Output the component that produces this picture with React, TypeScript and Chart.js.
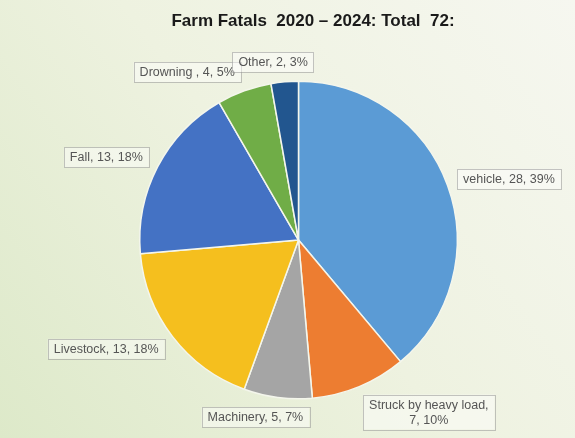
import React, { useEffect, useRef } from "react";
import { Chart, registerables } from "chart.js";

Chart.register(...registerables);

const TITLE = "Farm Fatals  2020 – 2024: Total  72:";
const CATEGORIES = ["vehicle", "Struck by heavy load", "Machinery", "Livestock", "Fall", "Drowning ", "Other"];
const VALUES = [28, 7, 5, 13, 13, 4, 2];
const PERCENTS = ["39%", "10%", "7%", "18%", "18%", "5%", "3%"];
const COLORS = ["#5b9bd5", "#ed7d31", "#a5a5a5", "#f5bf1e", "#4472c4", "#70ad47", "#22568f"];

const LABEL_FONT = "12.5px 'Liberation Sans', Arial, sans-serif";
const TITLE_FONT = "bold 17px 'Liberation Sans', Arial, sans-serif";

const bgPlugin = {
  id: "bg",
  beforeDraw(chart: any) {
    const { ctx, width, height } = chart;
    ctx.save();
    const g = ctx.createLinearGradient(0, height, width, 0);
    g.addColorStop(0, "#dde9c9");
    g.addColorStop(0.5, "#eef2e0");
    g.addColorStop(1, "#f6f7f0");
    ctx.fillStyle = g;
    ctx.fillRect(0, 0, width, height);
    ctx.restore();
  },
};

const labelPlugin = {
  id: "boxLabels",
  afterDatasetsDraw(chart: any) {
    const { ctx } = chart;
    const meta = chart.getDatasetMeta(0);
    ctx.save();
    // title
    ctx.font = TITLE_FONT;
    ctx.fillStyle = "#1a1a1a";
    ctx.textAlign = "center";
    ctx.textBaseline = "middle";
    ctx.fillText(TITLE, 313, 21);

    ctx.font = LABEL_FONT;
    meta.data.forEach((arc: any, i: number) => {
      const p = arc.getProps(["x", "y", "startAngle", "endAngle", "outerRadius"], true);
      const mid = (p.startAngle + p.endAngle) / 2;
      const c = Math.cos(mid);
      const s = Math.sin(mid);
      const full = `${CATEGORIES[i]}, ${VALUES[i]}, ${PERCENTS[i]}`;
      let lines = [full];
      if (ctx.measureText(full).width > 130) {
        lines = [`${CATEGORIES[i]},`, `${VALUES[i]}, ${PERCENTS[i]}`];
      }
      const lh = 15;
      const tw = Math.max(...lines.map((l) => ctx.measureText(l).width));
      const w = tw + 12;
      const h = lines.length * lh + 5;
      const ax = p.x + c * (p.outerRadius + 10);
      const ay = p.y + s * (p.outerRadius + 10);
      const k = Math.max(-1, Math.min(1, c * 3));
      const cx = ax + k * (w / 2);
      const cy = ay + s * (h / 2);
      const bx = cx - w / 2;
      const by = cy - h / 2;
      ctx.fillStyle = "rgba(255,255,255,0.45)";
      ctx.fillRect(bx, by, w, h);
      ctx.strokeStyle = "rgba(150,150,150,0.55)";
      ctx.lineWidth = 1;
      ctx.strokeRect(Math.round(bx) + 0.5, Math.round(by) + 0.5, Math.round(w), Math.round(h));
      ctx.fillStyle = "#555555";
      ctx.textAlign = "center";
      ctx.textBaseline = "middle";
      lines.forEach((l, j) => {
        ctx.fillText(l, cx, by + 2.5 + lh * j + lh / 2 + 0.5);
      });
    });
    ctx.restore();
  },
};

export default function App() {
  const ref = useRef<HTMLCanvasElement | null>(null);
  useEffect(() => {
    document.body.style.margin = "0";
    const canvas = ref.current;
    if (!canvas) return;
    const chart = new Chart(canvas, {
      type: "pie",
      data: {
        labels: CATEGORIES,
        datasets: [
          {
            data: VALUES,
            backgroundColor: COLORS,
            borderColor: "#f4f6ec",
            borderWidth: 1.5,
          },
        ],
      },
      options: {
        animation: false,
        responsive: false,
        layout: { padding: { left: 139, right: 117, top: 80, bottom: 38 } },
        plugins: {
          legend: { display: false },
          tooltip: { enabled: false },
          title: { display: false },
        },
      },
      plugins: [bgPlugin, labelPlugin],
    });
    return () => chart.destroy();
  }, []);
  return <canvas ref={ref} width={575} height={438} style={{ display: "block" }} />;
}
